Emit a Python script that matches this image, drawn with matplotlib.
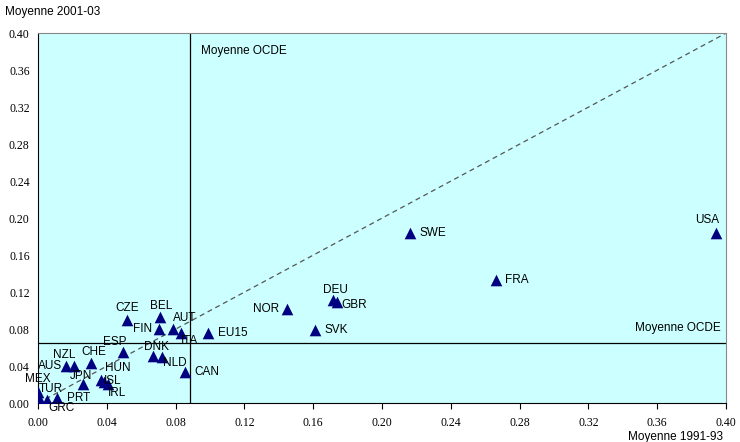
import matplotlib.pyplot as plt

plt.rcParams['font.family'] = ['Liberation Sans', 'DejaVu Sans']

countries = ['USA', 'SWE', 'FRA', 'DEU', 'GBR', 'NOR', 'SVK', 'CZE', 'BEL', 'FIN',
             'AUT', 'ITA', 'EU15', 'ESP', 'DNK', 'NLD', 'CAN', 'NZL', 'AUS', 'CHE',
             'HUN', 'ISL', 'IRL', 'JPN', 'MEX', 'TUR', 'GRC', 'PRT']
avg_1991_93 = [0.394, 0.216, 0.266, 0.1715, 0.174, 0.145, 0.161, 0.052, 0.071, 0.0705,
               0.0787, 0.083, 0.0987, 0.0493, 0.067, 0.0719, 0.0855, 0.021, 0.0165, 0.031,
               0.0364, 0.0385, 0.0405, 0.026, 0.0, 0.0005, 0.0054, 0.0112]
avg_2001_03 = [0.184, 0.184, 0.133, 0.111, 0.109, 0.102, 0.079, 0.090, 0.093, 0.080,
               0.080, 0.0753, 0.0753, 0.055, 0.0508, 0.050, 0.034, 0.040, 0.040, 0.043,
               0.025, 0.023, 0.0205, 0.021, 0.012, 0.006, 0.003, 0.0054]
oecd_1991_93 = 0.0885
oecd_2001_03 = 0.065

# label offsets in points (dx, dy, ha, va)
label_pos = {
    'USA': (-6, 5, 'center', 'bottom'), 'SWE': (7, 0, 'left', 'center'),
    'FRA': (7, 0, 'left', 'center'), 'DEU': (2, 3, 'center', 'bottom'),
    'GBR': (3, -2, 'left', 'center'), 'NOR': (-6, 0, 'right', 'center'),
    'SVK': (7, 0, 'left', 'center'), 'CZE': (0, 4, 'center', 'bottom'),
    'BEL': (1, 4, 'center', 'bottom'), 'FIN': (-5, 0, 'right', 'center'),
    'AUT': (0, 4, 'left', 'bottom'), 'ITA': (0, -1, 'left', 'top'),
    'EU15': (7, 0, 'left', 'center'), 'ESP': (-6, 3, 'center', 'bottom'),
    'DNK': (2, 2, 'center', 'bottom'), 'NLD': (1, 0, 'left', 'top'),
    'CAN': (7, 0, 'left', 'center'), 'NZL': (-7, 4, 'center', 'bottom'),
    'AUS': (-3, 0, 'right', 'center'), 'CHE': (2, 4, 'center', 'bottom'),
    'HUN': (3, 4.5, 'left', 'bottom'), 'ISL': (0, 0.5, 'left', 'center'),
    'IRL': (0, -2, 'left', 'top'), 'JPN': (-1, 1, 'center', 'bottom'),
    'MEX': (0, 5, 'center', 'bottom'), 'TUR': (0, 2, 'left', 'bottom'),
    'GRC': (1, -1, 'left', 'top'), 'PRT': (7, 0, 'left', 'center'),
}

fig = plt.figure(figsize=(7.4, 4.42), dpi=100)
ax = fig.add_axes([0.0514, 0.088, 0.9297, 0.837])
ax.set_facecolor('#ccffff')

ax.plot([0, 0.4], [0, 0.4], color='#555555', linestyle=(0, (4, 3)), linewidth=0.9, zorder=1)
ax.axvline(oecd_1991_93, color='black', linewidth=0.9, zorder=2)
ax.axhline(oecd_2001_03, color='black', linewidth=0.9, zorder=2)

ax.scatter(avg_1991_93, avg_2001_03, marker='^', s=70, color='#000080', zorder=3, linewidths=0)

for name, x, y in zip(countries, avg_1991_93, avg_2001_03):
    dx, dy, ha, va = label_pos[name]
    ax.annotate(name, (x, y), xytext=(dx, dy), textcoords='offset points',
                ha=ha, va=va, fontsize=8.5, color='black', zorder=4)

ax.text(oecd_1991_93 + 0.006, 0.381, 'Moyenne OCDE', fontsize=8.5, ha='left', va='center')
ax.text(0.397, oecd_2001_03 + 0.016, 'Moyenne OCDE', fontsize=8.5, ha='right', va='center')

ax.set_xlim(0, 0.4)
ax.set_ylim(0, 0.4)
ticks = [i * 0.04 for i in range(11)]
ax.set_xticks(ticks)
ax.set_yticks(ticks)
ax.set_xticklabels([f'{t:.2f}' for t in ticks], family='Liberation Serif', fontsize=8.5)
ax.set_yticklabels([f'{t:.2f}' for t in ticks], family='Liberation Serif', fontsize=8.5)
ax.tick_params(axis='x', direction='out', length=4, width=0.8, pad=6)
ax.tick_params(axis='y', length=0, pad=6)
for side in ['top', 'right']:
    ax.spines[side].set_color('#888888')
for side in ['left', 'bottom']:
    ax.spines[side].set_color('black')
for s in ax.spines.values():
    s.set_linewidth(0.8)

fig.text(0.007, 0.972, 'Moyenne 2001-03', fontsize=8.5, ha='left', va='center')
fig.text(0.977, 0.012, 'Moyenne 1991-93', fontsize=8.5, ha='right', va='center')

fig.savefig('out.png', dpi=100, facecolor='white')
plt.close(fig)
